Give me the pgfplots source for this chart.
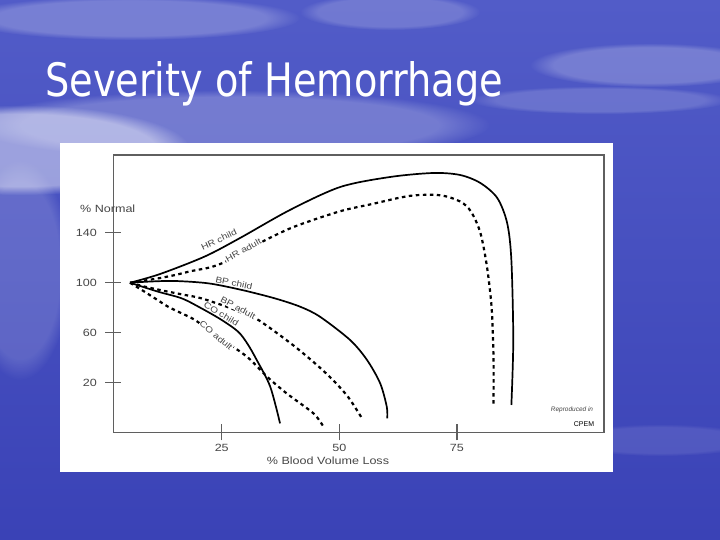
\documentclass[border=0pt]{standalone}
\usepackage{fontspec}
\setmainfont{Liberation Sans}
\newfontfamily\titlefont{DejaVu Sans}
\usepackage{pgfplots}
\pgfplotsset{compat=1.18}
\usetikzlibrary{fadings}
\definecolor{bgtop}{RGB}{82,92,200}
\definecolor{bgbot}{RGB}{58,66,182}
\definecolor{axgray}{RGB}{95,95,95}
\definecolor{txtgray}{RGB}{70,70,70}
\newcommand{\wide}[1]{\scalebox{1.2}[1]{#1}}
\begin{document}
\begin{tikzpicture}[x=1bp,y=1bp]
\path[use as bounding box] (0,0) rectangle (720,540);
\shade[top color=bgtop, bottom color=bgbot] (0,0) rectangle (720,540);
% haze and cloud wisps
\fill[white, opacity=0.45, path fading=circle with fuzzy edge 20 percent] (20,390) ellipse (170 and 45);
\fill[white, opacity=0.22, path fading=circle with fuzzy edge 20 percent] (230,415) ellipse (260 and 35);
\fill[white, opacity=0.22, path fading=circle with fuzzy edge 20 percent] (130,522) ellipse (170 and 22);
\fill[white, opacity=0.18, path fading=circle with fuzzy edge 20 percent] (390,528) ellipse (90 and 18);
\fill[white, opacity=0.22, path fading=circle with fuzzy edge 20 percent] (650,475) ellipse (120 and 22);
\fill[white, opacity=0.16, path fading=circle with fuzzy edge 20 percent] (600,440) ellipse (130 and 14);
\fill[white, opacity=0.15, path fading=circle with fuzzy edge 20 percent] (20,270) ellipse (50 and 110);
\fill[white, opacity=0.10, path fading=circle with fuzzy edge 20 percent] (660,100) ellipse (100 and 16);
% title
\node[anchor=base west, inner sep=0, text=white] at (45,443)
  {\resizebox{458bp}{35bp}{\titlefont Severity of Hemorrhage}};
% white panel
\fill[white] (60,68) rectangle (613,397);
\begin{axis}[
  at={(113.3bp,107.5bp)}, anchor=south west, scale only axis,
  width=490.7bp, height=277.5bp,
  xmin=1.94, xmax=106.3, ymin=-19.8, ymax=202.2,
  axis line style={axgray, line width=1.6bp},
  xtick={25,50,75}, ytick={20,60,100,140},
  tick pos=left, tick align=center, major tick length=16bp,
  tick style={axgray, line width=1.4bp},
  ticklabel style={font=\fontsize{10.5}{12}\selectfont, text=txtgray},
  /pgf/number format/assume math mode=true,
  xticklabel={\wide{\pgfmathprintnumber{\tick}}},
  yticklabel={\wide{\pgfmathprintnumber{\tick}}},
  yticklabel style={xshift=-5bp},
  clip=false,
]
% HR child
\addplot[black, line width=1.7bp, smooth] coordinates {
 (5.5,100) (11.9,107) (21.4,121) (28.9,135.8) (39.5,158.2) (50.2,176.6)
 (60.8,184.6) (70,187.8) (75.7,186.2) (80,179.8) (83.6,167.8) (85.7,147.8)
 (86.6,118) (87,54) (86.6,2.2)};
% HR adult
\addplot[black, line width=2.2bp, dash pattern=on 3.5bp off 3.5bp, smooth] coordinates {
 (5.5,100) (11.5,103.5) (15.1,106.2) (18.6,109.4) (22.2,112) (25,115.5)
 (29.5,124) (33.2,132) (40.2,144.5) (50,157) (57,163) (65,169.5) (71.4,170)
 (75.7,165) (78,157) (80,140) (81.4,113) (82.4,80) (82.8,40) (82.8,3)};
% BP child
\addplot[black, line width=1.7bp, smooth] coordinates {
 (5.5,100) (10,101) (15.1,101.4) (22.2,99.5) (29.3,94.2) (36.3,87.5)
 (41.7,80.8) (45.9,72.8) (52.3,54.2) (55.9,38.2) (58.7,19.5) (60.1,0.8) (60.2,-8.5)};
% BP adult
\addplot[black, line width=2.2bp, dash pattern=on 3.5bp off 3.5bp, smooth] coordinates {
 (5.5,100) (8.7,96.8) (12.9,93.4) (17.2,90.2) (20.7,87.5) (27,79.5) (32.8,70.2)
 (34.9,64.8) (40.2,50) (45,35) (48.7,22) (52,8) (55,-9.5)};
% CO child
\addplot[black, line width=1.7bp, smooth] coordinates {
 (5.5,100) (11.5,92.8) (16.5,87.5) (20.7,79.5) (25,70.2) (28.5,60.8)
 (30.5,51) (32.4,38.5) (35.3,17) (37.4,-12.5)};
% CO adult
\addplot[black, line width=2.2bp, dash pattern=on 3.5bp off 3.5bp, smooth] coordinates {
 (5.5,100) (8,94.2) (10.8,87.5) (13.6,80.8) (16.5,75.5) (19.3,70.2) (23.8,58)
 (30.3,41) (34.6,25) (38.8,11.5) (44.5,-4.5) (46.6,-15)};
% curve labels
\begin{scope}[every node/.style={font=\fontsize{8.5}{9}\selectfont, text=txtgray, inner sep=0.6bp}]
\node[rotate=25] at (axis cs:24.4,134.5) {\wide{HR child}};
\node[rotate=29, fill=white] at (axis cs:29.6,126) {\wide{HR adult}};
\node[rotate=-12] at (axis cs:27.6,99.8) {\wide{BP child}};
\node[rotate=-28, fill=white] at (axis cs:28.5,80) {\wide{BP adult}};
\node[rotate=-31] at (axis cs:24.9,75.2) {\wide{CO child}};
\node[rotate=-40, fill=white] at (axis cs:23.8,57.8) {\wide{CO adult}};
\end{scope}
\end{axis}
% axis titles
\node[anchor=west, inner sep=0, text=txtgray, font=\fontsize{10.5}{12}\selectfont] at (80,331) {\wide{\% Normal}};
\node[inner sep=0, text=txtgray, font=\fontsize{10.5}{12}\selectfont] at (328,79) {\wide{\% Blood Volume Loss}};
% credit
\node[inner sep=0, text=txtgray, font=\fontsize{6.5}{7}\selectfont\itshape] at (572,130) {Reproduced in};
\node[inner sep=0, text=black, font=\fontsize{7}{8}\selectfont] at (584,116) {CPEM};
\end{tikzpicture}
\end{document}
